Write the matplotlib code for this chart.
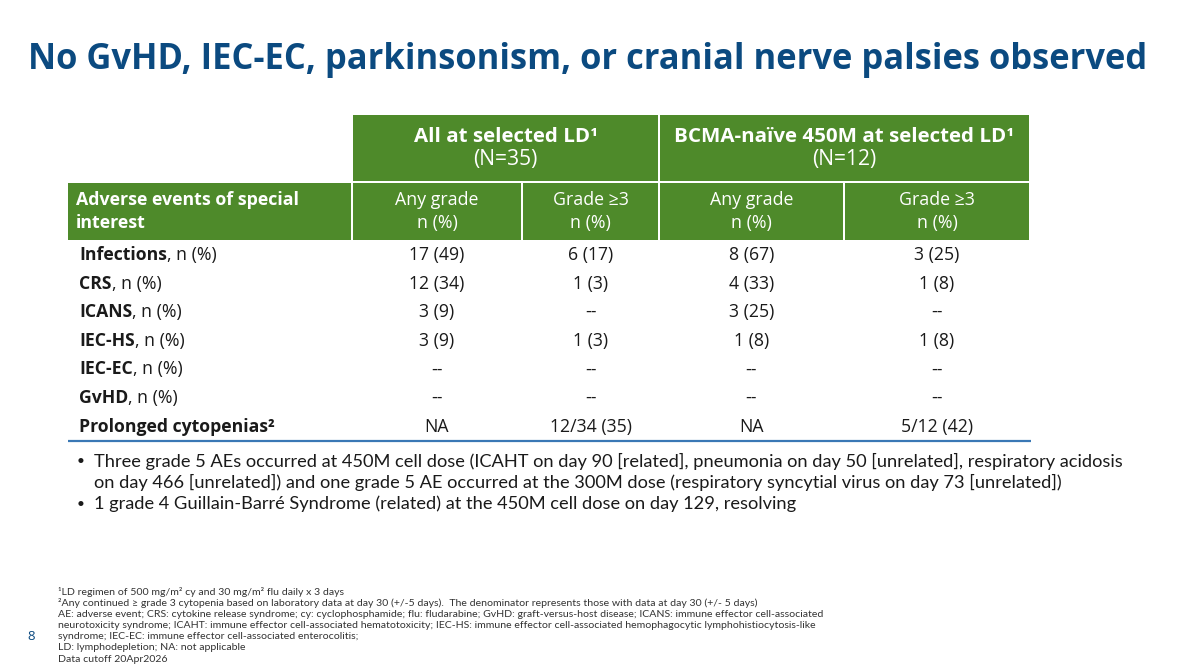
import matplotlib
matplotlib.use("Agg")
import matplotlib.pyplot as plt
from matplotlib.patches import Rectangle

plt.rcParams['font.family'] = ['Open Sans', 'DejaVu Sans']

# ---------------- data ----------------
title = "No GvHD, IEC-EC, parkinsonism, or cranial nerve palsies observed"
group_titles = ["All at selected LD¹", "BCMA-naïve 450M at selected LD¹"]
group_ns = ["(N=35)", "(N=12)"]
sub_headers = ["Any grade\nn (%)", "Grade ≥3\nn (%)", "Any grade\nn (%)", "Grade ≥3\nn (%)"]
row_header = "Adverse events of special\ninterest"
events_bold = ["Infections", "CRS", "ICANS", "IEC-HS", "IEC-EC", "GvHD", "Prolonged cytopenias²"]
events_suffix = [", n (%)", ", n (%)", ", n (%)", ", n (%)", ", n (%)", ", n (%)", ""]
all_any = ["17 (49)", "12 (34)", "3 (9)", "3 (9)", "--", "--", "NA"]
all_g3 = ["6 (17)", "1 (3)", "--", "1 (3)", "--", "--", "12/34 (35)"]
naive_any = ["8 (67)", "4 (33)", "3 (25)", "1 (8)", "--", "--", "NA"]
naive_g3 = ["3 (25)", "1 (8)", "--", "1 (8)", "--", "--", "5/12 (42)"]
bullets = [
    ["Three grade 5 AEs occurred at 450M cell dose (ICAHT on day 90 [related], pneumonia on day 50 [unrelated], respiratory acidosis",
     "on day 466 [unrelated]) and one grade 5 AE occurred at the 300M dose (respiratory syncytial virus on day 73 [unrelated])"],
    ["1 grade 4 Guillain-Barré Syndrome (related) at the 450M cell dose on day 129, resolving"],
]
footnotes = [
    "¹LD regimen of 500 mg/m² cy and 30 mg/m² flu daily x 3 days",
    "²Any continued ≥ grade 3 cytopenia based on laboratory data at day 30 (+/-5 days).  The denominator represents those with data at day 30 (+/- 5 days)",
    "AE: adverse event; CRS: cytokine release syndrome; cy: cyclophosphamide; flu: fludarabine; GvHD: graft-versus-host disease; ICANS: immune effector cell-associated",
    "neurotoxicity syndrome; ICAHT: immune effector cell-associated hematotoxicity; IEC-HS: immune effector cell-associated hemophagocytic lymphohistiocytosis-like",
    "syndrome; IEC-EC: immune effector cell-associated enterocolitis;",
    "LD: lymphodepletion; NA: not applicable",
    "Data cutoff 20Apr2026",
]
page_number = "8"

# ---------------- style ----------------
GREEN = "#4e8a2a"
NAVY = "#0b4a80"
BLUE_LINE = "#3a78b5"
TXT = "#1a1a1a"
MAIN_FONT = ['Open Sans', 'DejaVu Sans']
BULLET_FONT = ['Lato', 'DejaVu Sans']

fig = plt.figure(figsize=(12, 6.71), dpi=100)
ax = fig.add_axes([0, 0, 1, 1])
ax.set_xlim(0, 1200)
ax.set_ylim(671, 0)
ax.axis("off")
fig.canvas.draw()
renderer = fig.canvas.get_renderer()
inv = ax.transData.inverted()


def width_px(t):
    bb = t.get_window_extent(renderer=renderer)
    return bb.x1 - bb.x0


def fitted_size(text, target, family, weight="normal", base=12.0):
    t = ax.text(0, 0, text, fontsize=base, family=family, fontweight=weight)
    w = width_px(t)
    t.remove()
    return base * target / w


# title
fs_title = fitted_size(title, 1119, MAIN_FONT, "bold", 24)
ax.text(28, 60, title, fontsize=fs_title, fontweight="bold", color=NAVY, va="center", ha="left")

# column geometry
col_edges = [68, 353, 523, 660, 845, 1031]
gap = 2
r1_top, r1_bot = 115, 181
r2_top, r2_bot = 183, 240

fs_group = fitted_size(group_titles[1], 336, MAIN_FONT, "bold", 13)
fs_n = fitted_size(group_ns[0], 64, MAIN_FONT, "normal", 13)
fs_sub = fitted_size("Any grade", 83, MAIN_FONT, "normal", 13)
fs_body = fitted_size("Infections", 88, MAIN_FONT, "bold", 12)

# group header row
for g in range(2):
    x0 = col_edges[1 + 2 * g]
    x1 = col_edges[3 + 2 * g] - gap
    ax.add_patch(Rectangle((x0, r1_top), x1 - x0, r1_bot - r1_top, facecolor=GREEN, edgecolor="none"))
    cx = (x0 + x1) / 2
    ax.text(cx, 137, group_titles[g], fontsize=fs_group, fontweight="bold", color="white", ha="center", va="center")
    ax.text(cx, 160, group_ns[g], fontsize=fs_n, color="white", ha="center", va="center")

# sub header row
for c in range(5):
    x0 = col_edges[c]
    x1 = col_edges[c + 1] - gap
    ax.add_patch(Rectangle((x0, r2_top), x1 - x0, r2_bot - r2_top, facecolor=GREEN, edgecolor="none"))
for k, line in enumerate(row_header.split("\n")):
    ax.text(76, 200 + 23 * k, line, fontsize=fs_sub, fontweight="bold", color="white", ha="left", va="center")
for c in range(4):
    x0 = col_edges[c + 1]
    x1 = col_edges[c + 2] - gap
    for k, line in enumerate(sub_headers[c].split("\n")):
        ax.text((x0 + x1) / 2, 200 + 23 * k, line, fontsize=fs_sub, color="white", ha="center", va="center")

# body rows
row_y0, row_dy = 255, 28.6
cols = [all_any, all_g3, naive_any, naive_g3]
for i, name in enumerate(events_bold):
    y = row_y0 + i * row_dy
    t = ax.text(79, y, name, fontsize=fs_body, fontweight="bold", color=TXT, ha="left", va="center")
    if events_suffix[i]:
        bb = t.get_window_extent(renderer=renderer)
        xr = inv.transform((bb.x1, bb.y0))[0]
        ax.text(xr, y, events_suffix[i], fontsize=fs_body, color=TXT, ha="left", va="center")
    for c in range(4):
        x0 = col_edges[c + 1]
        x1 = col_edges[c + 2] - gap
        ax.text((x0 + x1) / 2, y, cols[c][i], fontsize=fs_body, color=TXT, ha="center", va="center")

ax.plot([68, 1031], [441, 441], color=BLUE_LINE, lw=1.6, solid_capstyle="butt")

# bullets
fs_bul = fitted_size(bullets[0][0], 1028, BULLET_FONT, "normal", 13)
by = [461, 504]
for i, b in enumerate(bullets):
    ax.text(77, by[i], "•", fontsize=fs_bul * 0.75, family=BULLET_FONT, color=TXT, ha="left", va="center")
    for k, line in enumerate(b):
        ax.text(94, by[i] + 21.5 * k, line, fontsize=fs_bul, family=BULLET_FONT, color=TXT, ha="left", va="center")

# footnotes
fs_fn = fitted_size(footnotes[2], 760, BULLET_FONT, "normal", 7)
fy0, fdy = 592, 11.2
for i, f in enumerate(footnotes):
    ax.text(58, fy0 + i * fdy, f, fontsize=fs_fn, family=BULLET_FONT, color="#333333", ha="left", va="center")

ax.text(27, 636, page_number, fontsize=9.5, color=NAVY, ha="left", va="center")

fig.savefig("out.png", dpi=100)
